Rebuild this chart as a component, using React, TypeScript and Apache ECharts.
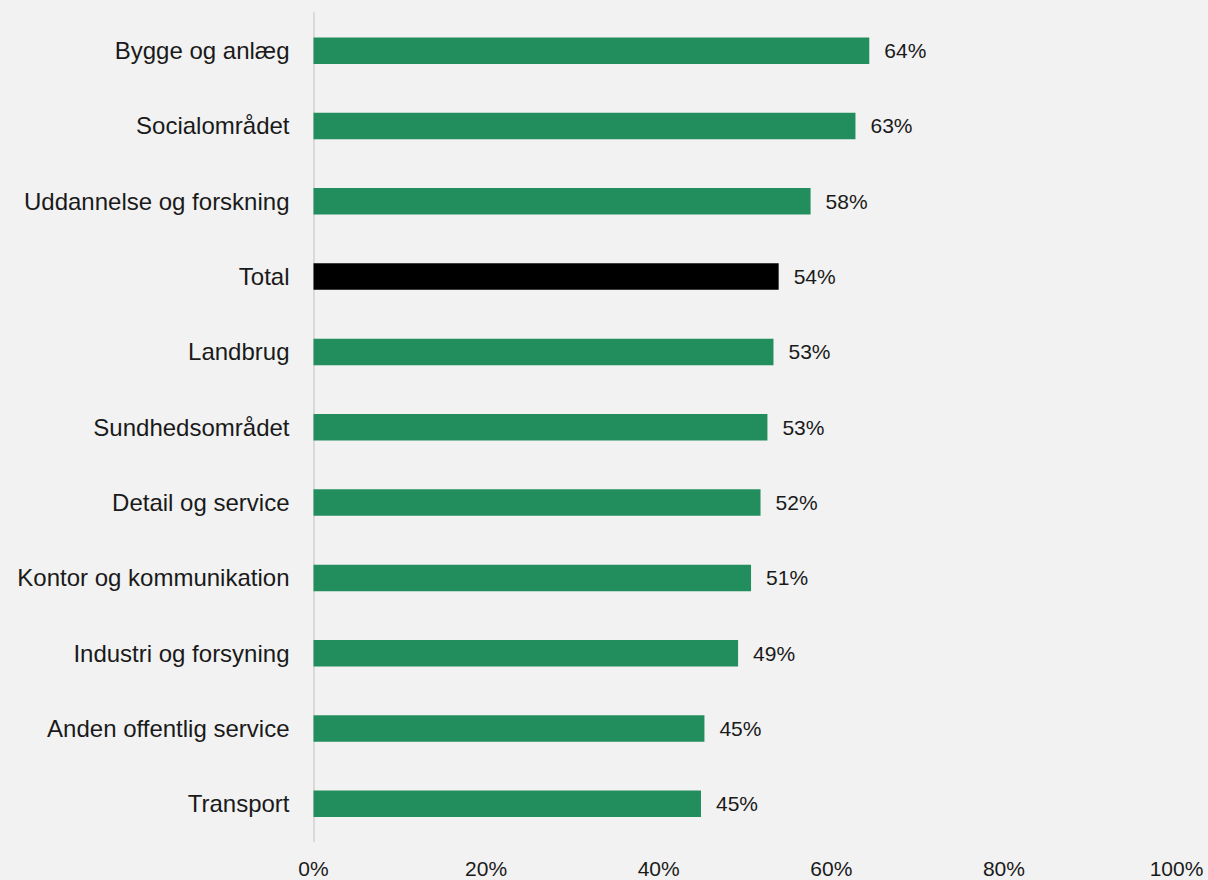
import React, { useEffect, useRef } from "react";
import * as echarts from "echarts";

const categories = [
  "Bygge og anlæg",
  "Socialområdet",
  "Uddannelse og forskning",
  "Total",
  "Landbrug",
  "Sundhedsområdet",
  "Detail og service",
  "Kontor og kommunikation",
  "Industri og forsyning",
  "Anden offentlig service",
  "Transport",
];
const values = [64.4, 62.8, 57.6, 53.9, 53.3, 52.6, 51.8, 50.7, 49.2, 45.3, 44.9];
const xTicks = [0, 20, 40, 60, 80, 100];

const GREEN = "#238e5d";
const BLACK = "#000000";

export default function App() {
  const ref = useRef<HTMLDivElement>(null);
  useEffect(() => {
    if (!ref.current) return;
    const chart = echarts.init(ref.current, null, { renderer: "svg" });
    const cats = [...categories].reverse();
    const vals = [...values].reverse();
    chart.setOption({
      animation: false,
      backgroundColor: "#f2f2f2",
      grid: { left: 313.5, right: 31.5, top: 13, bottom: 38.5, containLabel: false },
      xAxis: {
        type: "value",
        min: xTicks[0],
        max: xTicks[xTicks.length - 1],
        interval: 20,
        axisLine: { show: false },
        axisTick: { show: false },
        splitLine: { show: false },
        axisLabel: {
          formatter: (v: number) => v + "%",
          fontFamily: "Liberation Sans, Arial, sans-serif",
          fontSize: 21,
          color: "#1a1a1a",
          margin: 16,
        },
      },
      yAxis: {
        type: "category",
        data: cats,
        axisLine: { show: true, lineStyle: { color: "#d9d9d9", width: 2 } },
        axisTick: { show: false },
        axisLabel: {
          fontFamily: "Liberation Sans, Arial, sans-serif",
          fontSize: 24,
          color: "#1a1a1a",
          margin: 24,
        },
      },
      series: [
        {
          type: "bar",
          data: vals.map((v, i) => ({
            value: v,
            itemStyle: { color: cats[i] === "Total" ? BLACK : GREEN },
          })),
          barWidth: 26.5,
          label: {
            show: true,
            position: "right",
            distance: 15,
            formatter: (p: any) => Math.round(p.value) + "%",
            fontFamily: "Liberation Sans, Arial, sans-serif",
            fontSize: 21,
            color: "#1a1a1a",
          },
        },
      ],
    });
    return () => chart.dispose();
  }, []);
  return <div ref={ref} style={{ width: 1208, height: 880, position: "absolute", left: 0, top: 0 }} />;
}
